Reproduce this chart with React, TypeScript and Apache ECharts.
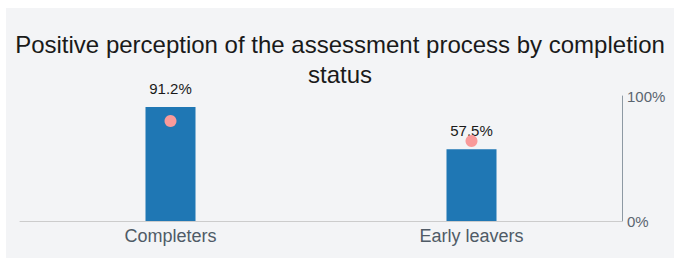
import React, { useEffect, useRef } from "react";
import * as echarts from "echarts";

const categories = ["Completers", "Early leavers"];
const barValues = [91.2, 57.5];
const dotValues = [80, 64];
const yTicks = [0, 100];

export default function App() {
  const ref = useRef<HTMLDivElement>(null);
  useEffect(() => {
    const chart = echarts.init(ref.current!, undefined, { renderer: "svg" });
    chart.setOption({
      animation: false,
      backgroundColor: "#f3f4f6",
      title: {
        text: "Positive perception of the assessment process by completion\nstatus",
        left: "center",
        top: 16,
        textStyle: {
          fontFamily: "Liberation Sans",
          fontSize: 24,
          fontWeight: "normal",
          color: "#1a1a1a",
          lineHeight: 30,
        },
      },
      grid: { left: 14, right: 52, top: 88, bottom: 37 },
      xAxis: {
        type: "category",
        data: categories,
        axisLine: { lineStyle: { color: "#cccccc", width: 1 } },
        axisTick: { show: false },
        axisLabel: {
          fontFamily: "Liberation Sans",
          fontSize: 18,
          color: "#4f5b66",
          margin: 6,
        },
      },
      yAxis: {
        type: "value",
        position: "right",
        min: 0,
        max: 100,
        interval: 100,
        splitLine: { show: false },
        axisLine: { show: true, lineStyle: { color: "#8d99a3", width: 1 } },
        axisTick: { show: false },
        axisLabel: {
          fontFamily: "Liberation Sans",
          fontSize: 15,
          color: "#5a6570",
          margin: 5,
          formatter: (v: number) => (yTicks.includes(v) ? v + "%" : ""),
        },
      },
      series: [
        {
          type: "bar",
          data: barValues,
          barWidth: 50,
          itemStyle: { color: "#1f77b4" },
          label: {
            show: true,
            position: "top",
            distance: 11,
            fontFamily: "Liberation Sans",
            fontSize: 15,
            color: "#1a1a1a",
            formatter: (p: any) => p.value.toFixed(1) + "%",
          },
          z: 2,
        },
        {
          type: "scatter",
          data: dotValues,
          symbolSize: 12,
          itemStyle: { color: "#f99a9a", opacity: 1 },
          z: 3,
        },
      ],
    });
    return () => chart.dispose();
  }, []);
  return (
    <div
      ref={ref}
      style={{ position: "absolute", left: 6, top: 8, width: 668, height: 250 }}
    />
  );
}
